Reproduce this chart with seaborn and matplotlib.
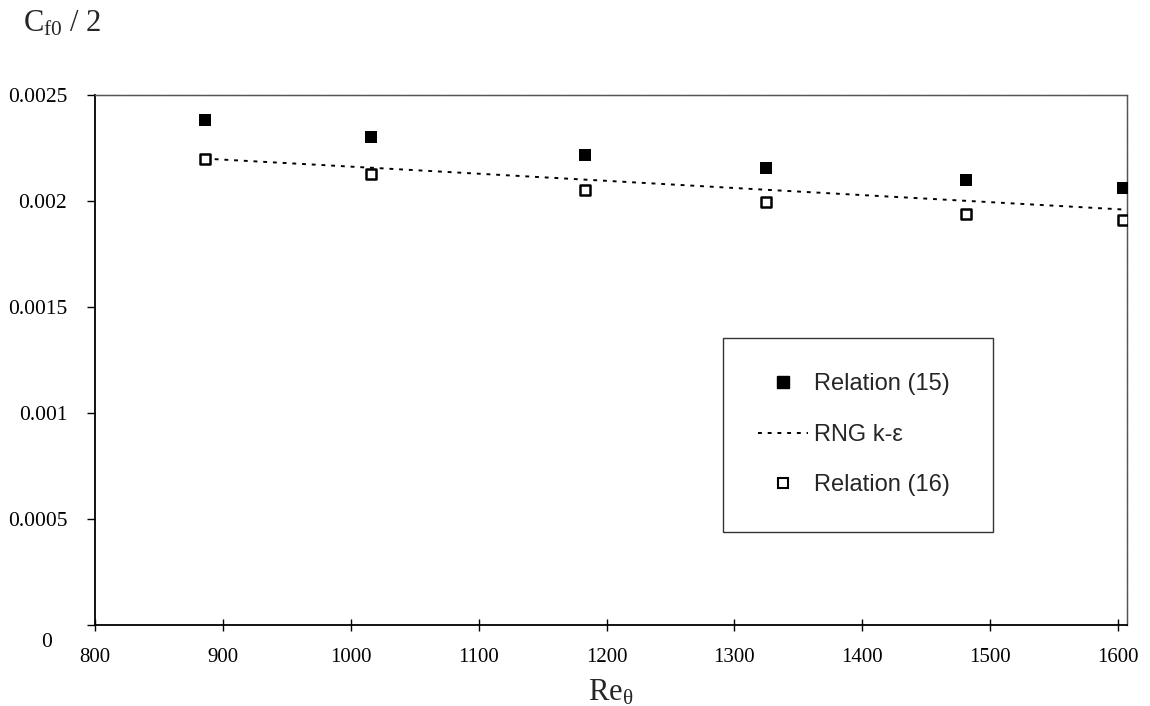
import matplotlib
matplotlib.use("Agg")
import matplotlib.pyplot as plt
import matplotlib.transforms as mtransforms
import seaborn as sns
import pandas as pd
from matplotlib.lines import Line2D

re_theta = [886, 1016, 1183, 1325, 1481, 1604]
rel15 = [0.002382, 0.002302, 0.002217, 0.002156, 0.002099, 0.002061]
rel16 = [0.002198, 0.002127, 0.002052, 0.001995, 0.001939, 0.001910]
rng_ke = [0.002200, 0.002157, 0.002101, 0.002053, 0.002001, 0.001960]

x_ticks = [800, 900, 1000, 1100, 1200, 1300, 1400, 1500, 1600]
y_ticks = [0, 0.0005, 0.001, 0.0015, 0.002, 0.0025]
y_tick_labels = ["0", "0.0005", "0.001", "0.0015", "0.002", "0.0025"]

sns.set_style("white")
plt.rcParams["font.family"] = ["Liberation Serif", "DejaVu Serif"]
plt.rcParams["mathtext.fontset"] = "stix"

df = pd.DataFrame({"x": re_theta, "r15": rel15, "r16": rel16, "rng": rng_ke})

fig = plt.figure(figsize=(11.5, 7.06), dpi=100)
ax = fig.add_axes([0.0826, 0.1147, 0.8974, 0.7507])

sns.lineplot(data=df, x="x", y="rng", ax=ax, color="black", linestyle=(0, (2, 3)),
             linewidth=1.4, legend=False, zorder=2)
sns.scatterplot(data=df, x="x", y="r15", ax=ax, marker="s", s=80, color="black",
                edgecolor="black", linewidth=0, legend=False, zorder=3)
sns.scatterplot(data=df, x="x", y="r16", ax=ax, marker="s", s=60, facecolor="white",
                edgecolor="black", linewidth=1.8, legend=False, zorder=3)

ax.set_xlim(800, 1607)
ax.set_ylim(0, 0.0025)
ax.set_xticks(x_ticks)
ax.set_xticklabels([str(v) for v in x_ticks])
ax.set_yticks(y_ticks)
ax.set_yticklabels(y_tick_labels)
ax.tick_params(axis="x", direction="inout", length=9, width=1, labelsize=15, pad=12, colors="black")
ax.tick_params(axis="y", direction="out", length=6, width=1, labelsize=15.5, pad=14, colors="black")
ax.xaxis.set_ticks_position("bottom")
ax.yaxis.set_ticks_position("left")

# the "0" label sits a little lower and further right in the reference
zero_lab = ax.get_yticklabels()[0]
zero_lab.set_transform(zero_lab.get_transform() +
                       mtransforms.ScaledTranslation(-0.15, -0.15, fig.dpi_scale_trans))

for s in ["left", "bottom"]:
    ax.spines[s].set_color("black")
    ax.spines[s].set_linewidth(1.3)
for s in ["top", "right"]:
    ax.spines[s].set_color("#555555")
    ax.spines[s].set_linewidth(1.0)
    ax.spines[s].set_linestyle((0, (1, 0.6)))

ax.set_xlabel("$\\mathregular{Re_{\u03b8}}$", fontsize=22, labelpad=8)
ax.set_ylabel("")
fig.text(0.02, 0.966, "$\\mathregular{C_{f0}}$ / 2", fontsize=22, ha="left", va="center")

handles = [
    Line2D([], [], marker="s", color="black", linestyle="none", markersize=8),
    Line2D([], [], color="black", linestyle=(0, (2, 3)), linewidth=1.4),
    Line2D([], [], marker="s", markerfacecolor="white", markeredgecolor="black",
           markeredgewidth=1.5, linestyle="none", markersize=7),
]
labels = ["Relation (15)", "RNG k-\u03b5", "Relation (16)"]
leg = ax.legend(handles, labels, loc="upper left",
                bbox_to_anchor=(0.6085, 0.5415, 0.2616, 0.0), mode="expand",
                borderaxespad=0, frameon=True, fancybox=False,
                prop={"family": "Liberation Sans", "size": 17},
                labelspacing=1.2, borderpad=1.5, handlelength=2.1, handletextpad=0.25)
leg.get_frame().set_edgecolor("black")
leg.get_frame().set_linewidth(1.0)

fig.savefig("out.png", dpi=100)
